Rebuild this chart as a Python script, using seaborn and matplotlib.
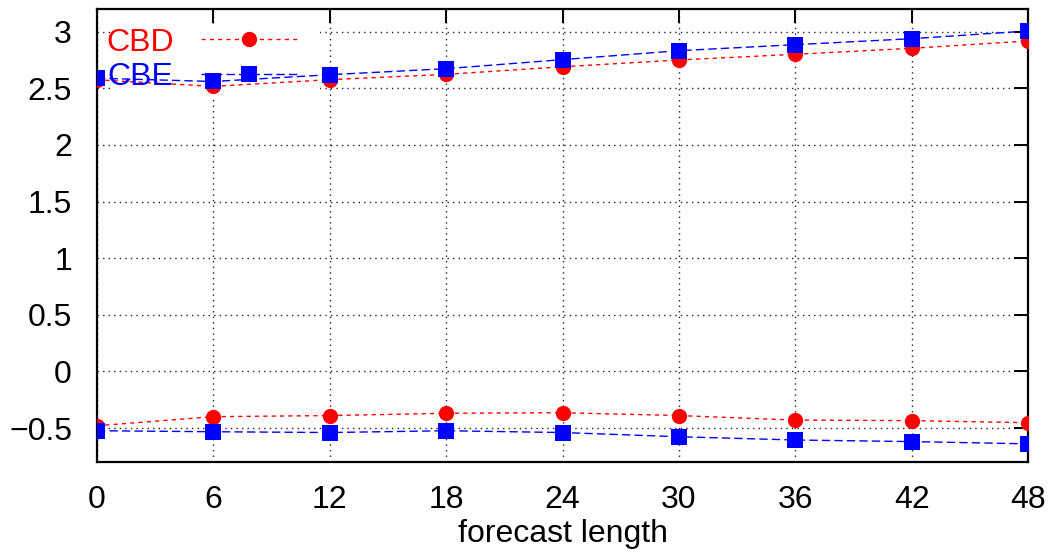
import matplotlib
matplotlib.use("Agg")
import matplotlib.pyplot as plt
import matplotlib.patches as mpatches
import seaborn as sns
import pandas as pd

# ---- data ----
forecast_length = [0, 6, 12, 18, 24, 30, 36, 42, 48]
cbd_upper = [2.575, 2.517, 2.576, 2.623, 2.69, 2.75, 2.80, 2.853, 2.918]
cbe_upper = [2.589, 2.56, 2.62, 2.673, 2.753, 2.832, 2.885, 2.938, 3.006]
cbd_lower = [-0.48, -0.40, -0.39, -0.37, -0.365, -0.39, -0.43, -0.435, -0.453]
cbe_lower = [-0.524, -0.533, -0.54, -0.524, -0.54, -0.577, -0.606, -0.62, -0.64]
x_ticks = [0, 6, 12, 18, 24, 30, 36, 42, 48]
y_ticks = [-0.5, 0, 0.5, 1, 1.5, 2, 2.5, 3]
y_tick_labels = ["\u22120.5", "0", "0.5", "1", "1.5", "2", "2.5", "3"]

sns.set_theme(style="white")
plt.rcParams["font.family"] = ["Liberation Sans", "DejaVu Sans"]

FS = 23

fig = plt.figure(figsize=(10.53, 5.53), dpi=100)
ax = fig.add_axes([0.0921, 0.1646, 0.8842, 0.8191])

df = pd.DataFrame({
    "x": forecast_length,
    "cbd_u": cbd_upper, "cbe_u": cbe_upper,
    "cbd_l": cbd_lower, "cbe_l": cbe_lower,
})

red = "#ff0000"
blue = "#0000ff"
cbd_style = dict(color=red, marker="o", markersize=11, markeredgewidth=0,
                 linewidth=1.0, dashes=(3, 3))
cbe_style = dict(color=blue, marker="s", markersize=11.5, markeredgewidth=0,
                 linewidth=1.0, dashes=(6, 3))

sns.lineplot(data=df, x="x", y="cbd_u", ax=ax, label="CBD", zorder=3, **cbd_style)
sns.lineplot(data=df, x="x", y="cbe_u", ax=ax, label="CBE", zorder=4, **cbe_style)
sns.lineplot(data=df, x="x", y="cbd_l", ax=ax, zorder=3, **cbd_style)
sns.lineplot(data=df, x="x", y="cbe_l", ax=ax, zorder=4, **cbe_style)

ax.set_xlim(0, 48)
ax.set_ylim(-0.8, 3.2)
ax.set_xticks(x_ticks)
ax.set_xticklabels([str(t) for t in x_ticks])
ax.set_yticks(y_ticks)
ax.set_yticklabels(y_tick_labels)

ax.set_axisbelow(True)
ax.grid(True, color="#222222", linestyle=(0, (1, 3)), linewidth=1.0)

# white key area masking the grid (gnuplot style)
mask = mpatches.Rectangle((0.016, 0.80), 0.2235, 0.167, transform=ax.transAxes,
                          facecolor="white", edgecolor="none", zorder=1)
ax.add_patch(mask)

for s in ax.spines.values():
    s.set_visible(True)
    s.set_color("black")
    s.set_linewidth(1.6)

ax.tick_params(axis="both", which="major", direction="in", length=10, width=1.4,
               color="black", top=True, right=True, labelsize=FS, labelcolor="black")
ax.tick_params(axis="y", pad=18)
ax.tick_params(axis="x", pad=16.5)

ax.set_xlabel("forecast length", fontsize=FS, color="black", labelpad=3)
ax.set_ylabel("")

handles, labels = ax.get_legend_handles_labels()
leg = ax.legend(handles[:2], labels[:2], loc="upper left", bbox_to_anchor=(0.0097, 0.959),
                frameon=False, markerfirst=False, handlelength=3.0, handletextpad=0.85,
                labelspacing=0.15, borderpad=0, borderaxespad=0, fontsize=FS,
                labelcolor="linecolor", numpoints=1)

fig.savefig("out.png", dpi=100)
